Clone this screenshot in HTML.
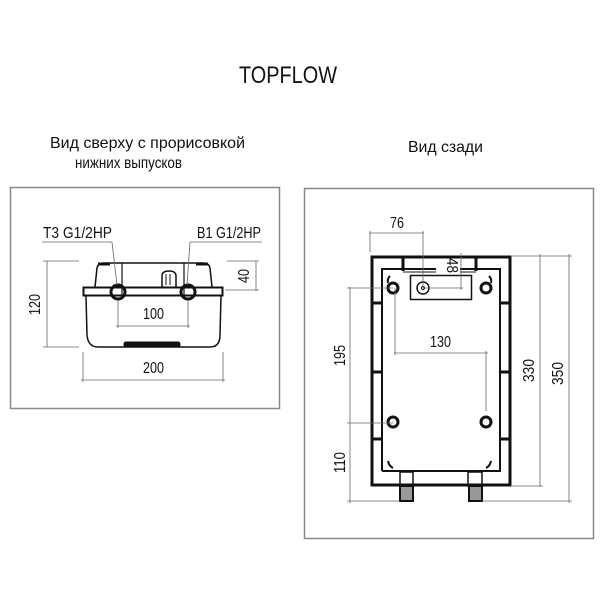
<!DOCTYPE html>
<html><head><meta charset="utf-8"><style>
html,body{margin:0;padding:0;background:#fff}
svg{display:block}
text{font-family:"Liberation Sans","DejaVu Sans",sans-serif;fill:#111}
</style></head><body>
<svg width="600" height="600" viewBox="0 0 600 600">
<text x="239" y="83" font-size="24" textLength="98" lengthAdjust="spacingAndGlyphs">TOPFLOW</text>
<text x="50" y="148" font-size="16" textLength="195" lengthAdjust="spacingAndGlyphs">Вид сверху с прорисовкой</text>
<text x="75" y="168" font-size="16" textLength="107" lengthAdjust="spacingAndGlyphs">нижних выпусков</text>
<text x="408" y="152" font-size="16" textLength="75" lengthAdjust="spacingAndGlyphs">Вид сзади</text>

<rect x="10.5" y="187.5" width="269" height="221" fill="#fff" stroke="#888" stroke-width="1.5"/>
<rect x="304.5" y="188.5" width="289" height="350" fill="#fff" stroke="#888" stroke-width="1.5"/>

<g stroke="#111" fill="none">
<path d="M95 287 L97 268 Q98 263 104 263 L203 263 Q209 263 210 268 L212 287" stroke-width="1.5"/>
<line x1="98" y1="264" x2="110" y2="264" stroke-width="3"/>
<line x1="196" y1="264" x2="208" y2="264" stroke-width="3"/>
<rect x="83.5" y="287.5" width="139" height="8" stroke-width="2"/>
<path d="M86 296 L87 335 Q88 347 98 347 L210 347 Q220 347 220 335 L221 296" stroke-width="1.5"/>
<rect x="124" y="342" width="56" height="5" fill="#111" rx="2"/>
<line x1="122" y1="263" x2="122" y2="296" stroke-width="1.2"/>
<line x1="184" y1="263" x2="184" y2="296" stroke-width="1.2"/>
<path d="M162 287 L162 276 Q162 271 169 271 Q176 271 176 276 L176 287" stroke-width="1.5"/>
<line x1="166" y1="274" x2="166" y2="285"/><line x1="170" y1="274" x2="170" y2="285"/>
<circle cx="118" cy="292" r="7" stroke-width="3"/>
<circle cx="188" cy="292" r="7" stroke-width="3"/>
</g>
<g stroke="#666" stroke-width="0.8" fill="none">
<line x1="42" y1="242" x2="112" y2="242"/><line x1="112" y1="242" x2="117" y2="285"/>
<line x1="190" y1="242" x2="262" y2="242"/><line x1="190" y1="242" x2="187" y2="285"/>
<line x1="47" y1="261" x2="47" y2="347"/><line x1="43" y1="261" x2="79" y2="261"/><line x1="43" y1="347" x2="79" y2="347"/>
<line x1="256" y1="261" x2="256" y2="291"/><line x1="227" y1="261" x2="259" y2="261"/><line x1="225" y1="290" x2="259" y2="290"/>
<line x1="118" y1="300" x2="118" y2="328"/><line x1="188" y1="300" x2="188" y2="328"/><line x1="116" y1="326" x2="190" y2="326"/>
<line x1="83" y1="352" x2="83" y2="382"/><line x1="223" y1="352" x2="223" y2="382"/><line x1="81" y1="380" x2="225" y2="380"/>
</g>
<text x="43" y="238" font-size="16" textLength="69" lengthAdjust="spacingAndGlyphs">T3 G1/2HP</text>
<text x="197" y="238" font-size="16" textLength="64" lengthAdjust="spacingAndGlyphs">B1 G1/2HP</text>
<text x="143" y="319" font-size="16" textLength="21" lengthAdjust="spacingAndGlyphs">100</text>
<text x="143" y="373" font-size="16" textLength="21" lengthAdjust="spacingAndGlyphs">200</text>
<text transform="translate(40 315) rotate(-90)" font-size="16" textLength="21" lengthAdjust="spacingAndGlyphs">120</text>
<text transform="translate(249 283) rotate(-90)" font-size="16" textLength="14" lengthAdjust="spacingAndGlyphs">40</text>

<g stroke="#111" fill="none">
<rect x="372" y="257" width="138" height="228" stroke-width="3"/>
<path d="M382 471 L382 269 L436 269 M460 269 L500 269 L500 471 L382 471" stroke-width="2"/>
<line x1="403" y1="256" x2="403" y2="271" stroke-width="3"/>
<line x1="476" y1="256" x2="476" y2="271" stroke-width="3"/>
<line x1="403" y1="272" x2="436" y2="272" stroke-width="1"/>
<line x1="460" y1="272" x2="476" y2="272" stroke-width="1"/>
<rect x="410.5" y="275.5" width="61" height="24" stroke-width="1.5"/>
<circle cx="423" cy="288" r="6" stroke-width="1.5"/><circle cx="423" cy="288" r="1.5"/>
<circle cx="393" cy="288" r="5" stroke-width="3"/><circle cx="486" cy="288" r="5" stroke-width="3"/>
<circle cx="393" cy="422" r="5" stroke-width="3"/><circle cx="486" cy="422" r="5" stroke-width="3"/>
<path d="M390 276 Q387 279 388 283 M489 276 Q492 279 491 283 M388 461 Q389 466 393 468 M491 461 Q490 466 486 468" stroke-width="2"/>
<g stroke-width="3">
<line x1="372" y1="303" x2="382" y2="303"/><line x1="372" y1="372" x2="382" y2="372"/><line x1="372" y1="439" x2="382" y2="439"/>
<line x1="500" y1="303" x2="510" y2="303"/><line x1="500" y1="372" x2="510" y2="372"/><line x1="500" y1="439" x2="510" y2="439"/>
</g>
<rect x="400" y="472" width="13" height="14" stroke-width="1.5"/>
<rect x="468" y="472" width="14" height="14" stroke-width="1.5"/>
<rect x="400" y="486" width="13" height="15" fill="#999" stroke-width="2"/>
<rect x="469" y="486" width="13" height="15" fill="#999" stroke-width="2"/>
</g>
<g stroke="#666" stroke-width="0.8" fill="none">
<line x1="369" y1="233" x2="424" y2="233"/><line x1="370" y1="231" x2="370" y2="252"/><line x1="423" y1="231" x2="423" y2="288"/>
<line x1="461" y1="253" x2="461" y2="290"/><line x1="423" y1="288" x2="463" y2="288"/>
<line x1="350" y1="287" x2="350" y2="503"/><line x1="347" y1="288" x2="393" y2="288"/><line x1="347" y1="423" x2="393" y2="423"/>
<line x1="347" y1="501" x2="400" y2="501"/><line x1="482" y1="501" x2="572" y2="501"/>
<line x1="394" y1="353" x2="488" y2="353"/><line x1="395" y1="288" x2="395" y2="355"/><line x1="486" y1="351" x2="486" y2="411"/>
<line x1="540" y1="254" x2="540" y2="487"/><line x1="512" y1="256" x2="572" y2="256"/><line x1="512" y1="486" x2="543" y2="486"/>
<line x1="569" y1="254" x2="569" y2="503"/>
</g>
<text x="390" y="228" font-size="16" textLength="14" lengthAdjust="spacingAndGlyphs">76</text>
<text x="430" y="347" font-size="16" textLength="21" lengthAdjust="spacingAndGlyphs">130</text>
<text transform="translate(447 258) rotate(90)" font-size="16" textLength="15" lengthAdjust="spacingAndGlyphs">48</text>
<text transform="translate(345 366) rotate(-90)" font-size="16" textLength="21" lengthAdjust="spacingAndGlyphs">195</text>
<text transform="translate(345 473) rotate(-90)" font-size="16" textLength="21" lengthAdjust="spacingAndGlyphs">110</text>
<text transform="translate(534 382) rotate(-90)" font-size="16" textLength="23" lengthAdjust="spacingAndGlyphs">330</text>
<text transform="translate(563 385) rotate(-90)" font-size="16" textLength="23" lengthAdjust="spacingAndGlyphs">350</text>
</svg>
</body></html>
